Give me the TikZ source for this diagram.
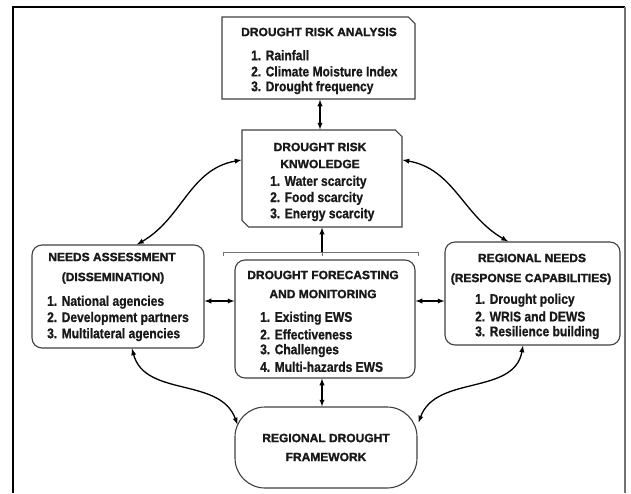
\documentclass[tikz,border=0pt]{standalone}
\usepackage{fontspec}
\setmainfont{Liberation Sans}
\newfontfamily\headfont{Liberation Sans}[FakeBold=1.6]
\newfontfamily\listfont{Liberation Sans}[FakeStretch=0.86, FakeBold=0.8]
\usetikzlibrary{arrows, shapes.misc}

\tikzset{
	box/.style={draw=black!75, line width=1.1pt, fill=white, rounded corners=10pt},
	cut/.style={draw=black!75, line width=1.1pt, fill=white, chamfered rectangle},
	head/.style={inner sep=0pt, text=black!90, font=\headfont\bfseries\fontsize{12}{14}\selectfont},
	entry/.style={inner sep=0pt, anchor=west, text=black!90, font=\listfont\bfseries\fontsize{14}{16}\selectfont},
	link/.style={<->, >=latex, line width=1.3pt}
}

\begin{document}
\begin{tikzpicture}[x=1pt, y=-1pt]
	\useasboundingbox (0,0) rectangle (631,493);
	\def \step {16.2}

	% frame
	\draw[line width=1.6pt] (13,493) -- (13,7) -- (625,7);
	\draw[line width=1.2pt, black!55] (625,7) -- (625,493);

	% boxes
	\node[cut, chamfered rectangle corners=north east, chamfered rectangle xsep=7pt, chamfered rectangle ysep=7pt,
		minimum width=193pt, minimum height=82pt] (analysis) at (318.5,58) {};
	\node[cut, chamfered rectangle corners={north east, south west}, chamfered rectangle xsep=13pt, chamfered rectangle ysep=14pt,
		minimum width=160pt, minimum height=97pt] (knowledge) at (322,178.5) {};
	\node[box, minimum width=172pt, minimum height=103pt] (needs) at (118,296.5) {};
	\node[box, minimum width=180pt, minimum height=118pt] (forecast) at (325,319) {};
	\node[box, minimum width=175pt, minimum height=103pt] (regional) at (532.5,293.5) {};
	\node[box, rounded corners=30pt, minimum width=182pt, minimum height=81pt] (framework) at (326,447.5) {};

	% headings
	\node[head] (analysisHead) at (319,32) {DROUGHT RISK ANALYSIS};
	\node[head] (knowledgeHead) at (320,147) {DROUGHT RISK};
	\node[head] (knowledgeHead2) at (320,164) {KNWOLEDGE};
	\node[head] (needsHead) at (112,257) {NEEDS ASSESSMENT};
	\node[head] (needsHead2) at (113,278) {(DISSEMINATION)};
	\node[head] (forecastHead) at (323,275) {DROUGHT FORECASTING};
	\node[head] (forecastHead2) at (323,294) {AND MONITORING};
	\node[head] (regionalHead) at (532,258) {REGIONAL NEEDS};
	\node[head] (regionalHead2) at (531,279) {(RESPONSE CAPABILITIES)};
	\node[head] (frameworkHead) at (326,438) {REGIONAL DROUGHT};
	\node[head] (frameworkHead2) at (326,457) {FRAMEWORK};

	% lists
	\foreach \t [count=\i] in {Rainfall, Climate Moisture Index, Drought frequency}
		\node[entry] (analysis\i) at (251, 39+\step*\i) {\i. \t};
	\foreach \t [count=\i] in {Water scarcity, Food scarcity, Energy scarcity}
		\node[entry] (knowledge\i) at (270, 166+\step*\i) {\i. \t};
	\foreach \t [count=\i] in {National agencies, Development partners, Multilateral agencies}
		\node[entry] (needs\i) at (47, 286+\step*\i) {\i. \t};
	\foreach \t [count=\i] in {Existing EWS, Effectiveness, Challenges, Multi-hazards EWS}
		\node[entry] (forecast\i) at (260, 302+\step*\i) {\i. \t};
	\foreach \t [count=\i] in {Drought policy, WRIS and DEWS, Resilience building}
		\node[entry] (regional\i) at (475, 284+\step*\i) {\i. \t};

	% bar under the knowledge box
	\coordinate (bar) at (322,252);
	\draw[black!55, line width=1pt] (223,256) -- (223,252) -- (418,252) -- (418,256);
	\draw[black!55, line width=1pt] (bar) -- ++(0,4);
	\draw[->, >=latex, line width=1.3pt] (bar) -- (bar |- knowledge.south);

	% connectors
	\draw[link] ([xshift=1.5pt]analysis.south) -- ([xshift=1.5pt]analysis.south |- knowledge.north);
	\draw[link] ([yshift=-4.5pt]needs.east) -- ([yshift=-4.5pt]needs.east -| forecast.west);
	\draw[link] ([yshift=-7.5pt]regional.west -| forecast.east) -- ([yshift=-7.5pt]regional.west);
	\draw[link] ([xshift=-3pt]forecast.south) -- ([xshift=-3pt]forecast.south |- framework.north);
	\draw[link] ([yshift=18.5pt]knowledge.west) to[out=190, in=30] ([xshift=19pt]needs.north);
	\draw[link] ([yshift=18.5pt]knowledge.east) to[out=-10, in=150] ([xshift=-24.5pt]regional.north);
	\draw[link] ([xshift=14pt]needs.south) to[out=-75, in=110] ([xshift=3pt, yshift=-18pt]framework.north west);
	\draw[link] ([xshift=-9.5pt]regional.south) to[out=-100, in=70] ([xshift=1pt, yshift=-16pt]framework.north east);
\end{tikzpicture}
\end{document}
